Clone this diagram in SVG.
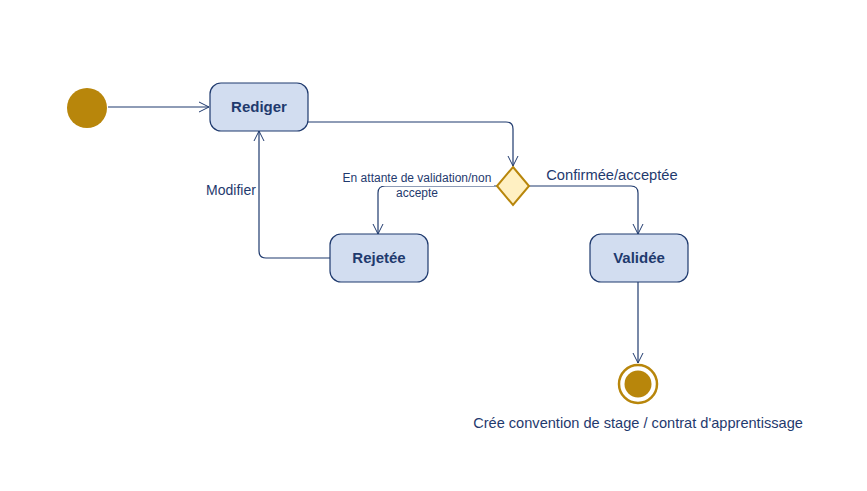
<svg xmlns="http://www.w3.org/2000/svg" width="867" height="491" viewBox="0 0 867 491">
<defs>
<marker id="arr" viewBox="0 0 12 12" refX="11" refY="6" markerWidth="12" markerHeight="12" markerUnits="userSpaceOnUse" orient="auto">
<path d="M1,1 L11,6 L1,11" fill="none" stroke="#1F3A6E" stroke-width="1"/>
</marker>
<style>
.node rect{fill:#D2DDF0;stroke:#1F3A6E;stroke-width:1.2}
.lbl{font-family:"Liberation Sans",Arial,sans-serif;font-size:15px;font-weight:bold;fill:#1F3A6E;text-anchor:middle}
.edge{fill:none;stroke:#1F3A6E;stroke-width:1.2;marker-end:url(#arr)}
.etxt{font-family:"Liberation Sans",Arial,sans-serif;fill:#1F3A6E}
</style>
</defs>
<rect width="867" height="491" fill="#ffffff"/>
<g id="connectors">
<path class="edge" d="M108,107 L209,107"/>
<path class="edge" d="M308,122 L506,122 Q513,122 513,129 L513,166"/>
<path class="edge" d="M497,186 L385,186 Q378,186 378,193 L378,234"/>
<path class="edge" d="M529,186 L631,186 Q638,186 638,193 L638,234"/>
<path class="edge" d="M330,258 L266,258 Q259,258 259,251 L259,131"/>
<path class="edge" d="M638,282 L638,363"/>
</g>
<g id="edge-labels">
<rect x="340" y="172" width="154" height="14" fill="#ffffff"/>
<text class="etxt" x="417" y="182" font-size="12" text-anchor="middle">En attante de validation/non</text>
<text class="etxt" x="417" y="197" font-size="12" text-anchor="middle">accepte</text>
<text class="etxt" x="612" y="180" font-size="14.7" text-anchor="middle">Confirmée/acceptée</text>
<text class="etxt" x="231" y="195" font-size="14" text-anchor="middle">Modifier</text>
</g>
<g id="start">
<circle cx="87" cy="108" r="20" fill="#B8860B"/>
</g>
<g id="rediger" class="node">
<rect x="210" y="83" width="98" height="48" rx="11"/>
<text class="lbl" x="259" y="112">Rediger</text>
</g>
<g id="decision">
<polygon points="513,167 529,186 513,205 497,186" fill="#FFF0C2" stroke="#B8860B" stroke-width="2"/>
</g>
<g id="rejetee" class="node">
<rect x="330" y="234" width="98" height="48" rx="11"/>
<text class="lbl" x="379" y="263">Rejetée</text>
</g>
<g id="validee" class="node">
<rect x="590" y="234" width="98" height="48" rx="11"/>
<text class="lbl" x="639" y="263">Validée</text>
</g>
<g id="final">
<circle cx="638" cy="384" r="19" fill="#ffffff" stroke="#B8860B" stroke-width="2.5"/>
<circle cx="638" cy="384" r="13.5" fill="#B8860B"/>
<text class="etxt" x="638" y="428" font-size="14.6" text-anchor="middle">Crée convention de stage / contrat d'apprentissage</text>
</g>
</svg>
